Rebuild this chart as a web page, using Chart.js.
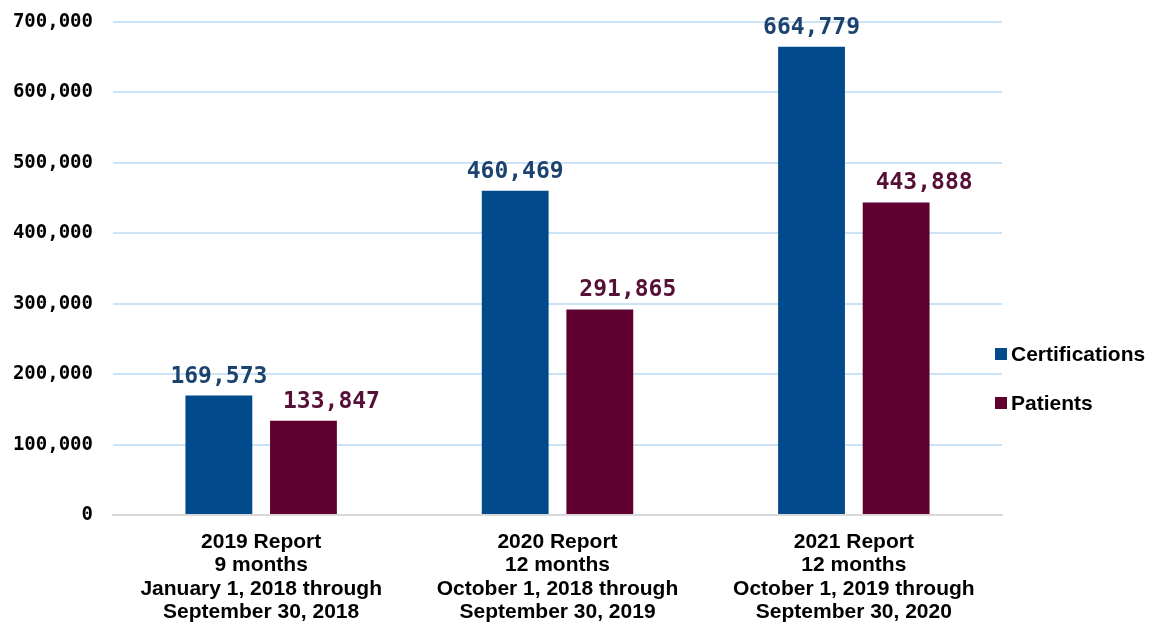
<!DOCTYPE html>
<html>
<head>
<meta charset="utf-8">
<script src="https://cdn.jsdelivr.net/npm/chart.js@4"></script>
<style>
   body { margin: 0; background: #fff; }
   #wrap { position: relative; width: 1152px; height: 624px; }
   #legend { position: absolute; left: 995px; top: 340px; font: bold 21px "Liberation Sans", Arial, sans-serif; color: #000; }
   #legend div { height: 49px; line-height: 28px; white-space: nowrap; }
   #legend span { display: inline-block; width: 12px; height: 12px; margin-right: 4px; vertical-align: 1px; }
</style>
</head>
<body>
<div id="wrap">
   <canvas id="myChart" width="1152" height="624"></canvas>
   <div id="legend"></div>
</div>
<script>
// chart data
const categories = [
   ["2019 Report", "9 months", "January 1, 2018 through", "September 30, 2018"],
   ["2020 Report", "12 months", "October 1, 2018 through", "September 30, 2019"],
   ["2021 Report", "12 months", "October 1, 2019 through", "September 30, 2020"]
];
const seriesNames = ["Certifications", "Patients"];
const certifications = [169573, 460469, 664779];
const patients = [133847, 291865, 443888];
const tickValues = [0, 100000, 200000, 300000, 400000, 500000, 600000, 700000];

const barColors = ["#014a8c", "#5f002e"];
const labelColors = ["#1c426f", "#561036"];
// the Patients labels sit a bit to the right of their bars
const labelShiftX = [0, 28];

// draws the value above each bar
const valueLabels = {
   id: "valueLabels",
   afterDatasetsDraw(chart) {
      let ctx = chart.ctx;
      ctx.save();
      ctx.font = "bold 23px 'DejaVu Sans Mono', monospace";
      ctx.textAlign = "center";
      ctx.textBaseline = "alphabetic";
      chart.data.datasets.forEach((ds, i) => {
         chart.getDatasetMeta(i).data.forEach((bar, j) => {
            ctx.fillStyle = labelColors[i];
            ctx.fillText(ds.data[j].toLocaleString("en-US"), bar.x + labelShiftX[i], bar.y - 13);
         });
      });
      ctx.restore();
   }
};

let ctx = document.getElementById("myChart").getContext("2d");
let myChart = new Chart(ctx, {
   type: "bar",
   data: {
      labels: categories,
      datasets: [{
         label: seriesNames[0],
         data: certifications,
         backgroundColor: barColors[0]
      }, {
         label: seriesNames[1],
         data: patients,
         backgroundColor: barColors[1]
      }]
   },
   options: {
      responsive: false,
      animation: false,
      layout: { padding: { top: 22, right: 150, left: 0, bottom: 0 } },
      categoryPercentage: 0.571,
      barPercentage: 0.79,
      plugins: {
         legend: { display: false },
         tooltip: { enabled: false }
      },
      scales: {
         x: {
            grid: { display: false },
            border: { display: true, color: "#d9d9d9", width: 2 },
            ticks: {
               color: "#000",
               padding: 8,
               maxRotation: 0,
               font: { family: "'Liberation Sans', Arial, sans-serif", weight: "bold", size: 21, lineHeight: 1.1 }
            },
            afterFit(scale) { scale.height = 109; }
         },
         y: {
            min: 0,
            max: 700000,
            border: { display: false },
            grid: { color: "#cce3f6", lineWidth: 2, drawTicks: false },
            afterBuildTicks(scale) { scale.ticks = tickValues.map(v => ({ value: v })); },
            afterFit(scale) { scale.width = 113; scale.paddingTop = 0; scale.paddingBottom = 0; },
            ticks: {
               color: "#000",
               padding: 20,
               font: { family: "'DejaVu Sans Mono', monospace", weight: "bold", size: 19 },
               callback: v => v.toLocaleString("en-US")
            }
         }
      }
   },
   plugins: [valueLabels]
});

// legend on the right
const legend = document.getElementById("legend");
seriesNames.forEach((name, i) => {
   let item = document.createElement("div");
   item.innerHTML = '<span style="background:' + barColors[i] + '"></span>' + name;
   legend.appendChild(item);
});
</script>
</body>
</html>
